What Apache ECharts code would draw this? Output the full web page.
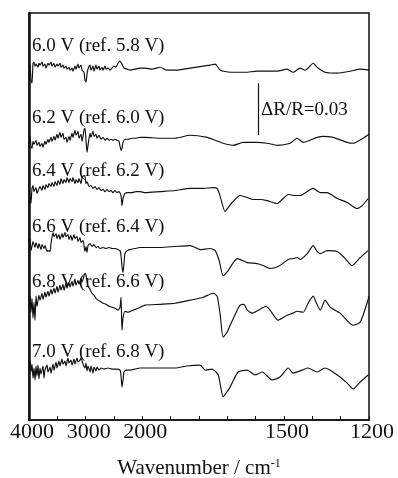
<!DOCTYPE html>
<html>
<head>
<meta charset="utf-8">
<script src="https://cdn.jsdelivr.net/npm/echarts@6/dist/echarts.min.js"></script>
<style>
  html, body { margin: 0; background: #fff; }
  #chart { width: 398px; height: 478px; }
</style>
</head>
<body>
<div id="chart"></div>
<script>
// potential steps and their reference potentials
const traceLabels = [
  '6.0 V (ref. 5.8 V)',
  '6.2 V (ref. 6.0 V)',
  '6.4 V (ref. 6.2 V)',
  '6.6 V (ref. 6.4 V)',
  '6.8 V (ref. 6.6 V)',
  '7.0 V (ref. 6.8 V)',
]
// vertical offsets of each spectrum, in 1e-3 ΔR/R
const offsets = [202, 161.5, 132.5, 99, 68, 30]

// [wavenumber cm-1, ΔR/R x 1e-3]
const spec60 = [[4000,2.3],[3982,3.5],[3965,-5.8],[3947,-7.5],[3929,4.0],[3912,4.6],[3894,2.3],[3876,3.5],[3841,1.7],[3824,4.0],[3806,2.9],[3771,4.6],[3753,2.3],[3718,3.5],[3700,1.2],[3665,4.0],[3647,2.9],[3612,4.6],[3594,2.3],[3559,4.0],[3541,1.7],[3506,3.5],[3488,2.3],[3453,4.0],[3435,1.7],[3400,2.9],[3382,1.2],[3347,2.3],[3329,0.6],[3294,1.7],[3276,0],[3241,1.2],[3224,-0.6],[3188,2.3],[3171,0.6],[3135,3.5],[3118,1.2],[3082,2.9],[3065,0],[3029,-1.2],[3012,-5.8],[2994,-6.9],[2976,-2.3],[2959,0.6],[2923,2.9],[2906,0],[2870,2.3],[2853,-0.6],[2818,2.9],[2800,0.6],[2765,2.3],[2747,0],[2712,1.7],[2694,0],[2659,2.3],[2641,0.6],[2606,1.2],[2570,0],[2535,1.2],[2500,2.3],[2465,1.7],[2429,4.0],[2394,5.2],[2359,3.5],[2323,1.2],[2270,0.6],[2218,0],[2129,0.6],[2041,1.2],
  [1990,1.2],[1965,0.6],[1937,1.7],[1913,0],[1884,0],[1831,1.2],[1785,2.3],[1761,2.9],[1743,3.5],[1725,0],[1690,-1.2],[1637,-1.2],[1595,-0.6],[1549,-0.6],[1524,-0.6],[1489,0.6],[1468,-1.2],[1443,1.2],[1425,0],[1397,4.0],[1380,1.2],[1355,-1.2],[1312,-1.7],[1267,-0.6],[1231,0.6],[1200,0]]

const spec62 = [[4000,1.2],[3982,2.3],[3965,-3.5],[3947,-4.6],[3929,-0.6],[3912,-2.3],[3876,0],[3859,-2.9],[3824,-1.2],[3806,-3.5],[3771,-1.7],[3753,-4.0],[3718,-0.6],[3700,-2.3],[3665,0.6],[3647,-1.2],[3612,1.7],[3594,-0.6],[3559,2.3],[3541,0],[3506,3.5],[3488,1.2],[3453,4.6],[3435,1.7],[3400,4.0],[3382,0.6],[3347,1.7],[3329,-1.2],[3294,2.3],[3276,0],[3241,4.0],[3224,1.7],[3188,5.8],[3171,2.9],[3135,5.2],[3118,1.2],[3082,3.5],[3065,-0.6],[3029,5.8],[3012,6.9],[2994,0],[2976,-6.9],[2959,-2.9],[2923,4.0],[2906,1.7],[2870,5.2],[2853,2.3],[2818,3.5],[2800,1.2],[2765,2.9],[2729,0.6],[2694,1.7],[2659,0],[2623,1.2],[2588,0],[2553,0.6],[2518,0],[2482,0.6],[2447,0],[2412,-0.6],[2376,-5.8],[2359,-4.6],[2341,-1.2],[2306,0.6],[2253,0.6],[2182,1.2],[2112,1.2],[2041,1.7],
  [1990,1.7],[1937,1.2],[1884,1.2],[1831,2.9],[1771,1.7],[1743,0],[1715,-1.7],[1679,-2.9],[1644,-1.2],[1595,-1.2],[1560,-1.7],[1524,-2.9],[1478,-1.7],[1454,1.2],[1432,-1.2],[1408,0],[1383,1.7],[1362,2.3],[1327,1.7],[1277,-1.2],[1256,-1.7],[1221,1.2],[1200,3.5]]

const spec64 = [[4000,0],[3982,-3.5],[3965,-7.5],[3947,1.2],[3929,2.9],[3912,-0.6],[3876,1.7],[3859,-1.7],[3824,1.2],[3806,2.3],[3771,0],[3753,2.9],[3718,0.6],[3700,3.5],[3665,1.7],[3647,4.0],[3612,2.3],[3594,4.6],[3559,2.3],[3541,5.2],[3506,2.9],[3488,5.8],[3453,3.5],[3435,6.9],[3400,4.0],[3382,6.3],[3347,4.6],[3329,7.5],[3294,4.6],[3276,6.9],[3241,5.2],[3224,7.5],[3188,4.0],[3171,6.3],[3135,4.6],[3118,6.9],[3082,4.0],[3065,7.5],[3029,8.7],[3012,8.1],[2994,4.0],[2976,5.2],[2941,2.3],[2906,2.9],[2870,1.2],[2835,2.3],[2800,0.6],[2765,1.7],[2729,0],[2694,0.6],[2659,-0.6],[2623,0.6],[2588,-0.6],[2553,0],[2518,-1.2],[2482,0],[2447,-1.2],[2412,-0.6],[2376,-2.9],[2359,-8.7],[2341,-4.6],[2306,-1.7],[2253,-1.2],[2182,-1.2],[2112,-0.6],[2041,-0.6],
  [1990,-1.2],[1937,-0.6],[1884,0],[1831,1.2],[1785,1.2],[1750,1.7],[1736,1.2],[1725,-3.5],[1708,-12.1],[1697,-9.8],[1683,-6.9],[1655,-2.9],[1630,-4.0],[1609,-5.2],[1584,-5.2],[1560,-5.8],[1524,-7.5],[1503,-4.6],[1485,-2.3],[1461,-2.9],[1443,-2.9],[1418,-0.6],[1397,1.2],[1380,-0.6],[1372,-1.2],[1348,-1.2],[1312,-4.6],[1277,-6.9],[1242,-10.4],[1224,-8.7],[1203,-4.6]]

const spec66 = [[4000,2.9],[3982,5.8],[3965,-1.2],[3947,1.2],[3929,4.0],[3894,0.6],[3876,3.5],[3841,0],[3824,2.9],[3788,-0.6],[3771,2.3],[3735,0],[3718,1.7],[3682,-1.7],[3665,-1.2],[3629,-1.7],[3612,2.9],[3576,9.2],[3559,6.9],[3523,8.7],[3506,5.8],[3471,8.1],[3453,5.2],[3418,8.7],[3400,6.3],[3365,9.2],[3347,6.9],[3312,8.1],[3294,5.2],[3259,7.5],[3241,4.6],[3206,8.1],[3188,5.8],[3153,6.9],[3135,4.0],[3100,6.3],[3082,3.5],[3047,4.6],[3029,1.7],[3012,-1.7],[2994,1.2],[2976,-2.3],[2959,1.7],[2923,2.9],[2888,1.2],[2853,2.3],[2818,0.6],[2782,1.2],[2747,0],[2694,0.6],[2641,0],[2588,0.6],[2535,0],[2482,0],[2429,-0.6],[2394,-1.2],[2376,-4.0],[2359,-10.4],[2341,-13.8],[2323,-8.1],[2306,-2.9],[2270,-1.2],[2218,-0.6],[2129,0],[2041,0.6],
  [1990,0.6],[1937,0.6],[1884,1.2],[1831,1.7],[1796,-0.6],[1761,0],[1743,-1.2],[1729,-6.9],[1715,-15.6],[1697,-12.7],[1679,-8.1],[1665,-5.8],[1630,-8.1],[1595,-8.7],[1574,-9.8],[1549,-11.5],[1521,-10.4],[1485,-6.3],[1468,-5.8],[1454,-5.2],[1443,-6.3],[1418,-2.9],[1397,1.7],[1383,-1.7],[1372,-2.9],[1348,-1.2],[1312,-1.7],[1284,-5.8],[1260,-9.8],[1231,-5.2],[1203,-1.2]]

const spec68 = [[4000,1.2],[3982,3.5],[3965,-5.8],[3947,2.3],[3929,-9.2],[3912,0],[3894,-10.4],[3876,3.5],[3859,-2.3],[3824,4.0],[3806,1.2],[3771,5.2],[3753,1.7],[3718,5.8],[3700,2.9],[3665,6.3],[3647,3.5],[3612,7.5],[3594,4.6],[3559,8.1],[3541,5.2],[3506,9.2],[3488,5.8],[3453,9.8],[3435,6.9],[3400,10.4],[3382,6.9],[3347,11.0],[3329,8.1],[3294,11.5],[3276,8.7],[3241,12.1],[3224,9.2],[3188,13.3],[3171,9.8],[3135,12.7],[3118,10.4],[3082,13.8],[3065,11.5],[3029,15.0],[3012,16.7],[2994,15.6],[2976,12.1],[2959,9.2],[2923,7.5],[2888,5.2],[2853,4.0],[2818,2.3],[2782,1.2],[2747,0.6],[2694,-0.6],[2641,-1.2],[2588,-2.3],[2535,-2.9],[2482,-3.5],[2429,-4.6],[2394,-2.9],[2376,2.9],[2359,-16.2],[2341,-9.2],[2306,-5.2],[2253,-5.8],[2165,-4.6],[2076,-3.5],
  [1990,-1.7],[1937,-1.2],[1884,-0.6],[1831,1.2],[1785,2.9],[1750,5.2],[1736,3.5],[1725,-7.5],[1715,-20.2],[1701,-17.3],[1690,-13.3],[1672,-6.9],[1655,-1.7],[1641,-1.2],[1630,-4.6],[1612,-6.3],[1584,-4.0],[1563,-2.3],[1549,-4.6],[1521,-10.4],[1489,-7.5],[1468,-6.3],[1454,-5.2],[1432,-5.8],[1415,-0.6],[1397,3.5],[1387,0],[1372,-4.6],[1355,1.2],[1337,-2.9],[1302,-6.3],[1256,-13.3],[1231,-11.5],[1207,-0.6],[1200,3.5]]

const spec70 = [[4000,1.2],[3982,4.6],[3965,-2.3],[3947,2.3],[3929,-5.8],[3912,0],[3894,-6.9],[3876,1.2],[3859,-4.6],[3841,1.7],[3824,-6.3],[3806,0],[3788,-3.5],[3753,1.2],[3735,-5.8],[3718,-1.2],[3682,1.7],[3665,-2.3],[3629,0.6],[3612,-2.9],[3576,2.3],[3559,-1.2],[3523,3.5],[3506,0],[3471,4.0],[3453,1.2],[3418,5.2],[3400,2.3],[3365,4.0],[3347,1.2],[3312,5.8],[3294,2.9],[3259,4.6],[3241,1.7],[3206,5.2],[3188,2.3],[3153,5.8],[3135,3.5],[3100,4.6],[3082,5.8],[3047,2.3],[3012,0],[2994,2.9],[2976,-1.7],[2959,1.2],[2923,-2.3],[2906,1.2],[2870,-2.9],[2853,0.6],[2818,-1.7],[2800,0.6],[2765,-1.2],[2729,0],[2676,-0.6],[2606,0],[2535,-0.6],[2465,-0.6],[2394,-1.2],[2376,-4.6],[2359,-11.0],[2341,-6.9],[2323,-2.3],[2288,-1.2],[2218,-1.2],[2129,-0.6],[2041,0],
  [1990,0],[1937,0],[1884,0],[1842,1.2],[1796,1.7],[1778,-1.2],[1754,-0.6],[1732,-4.0],[1715,-16.7],[1704,-14.4],[1690,-11.0],[1662,-2.3],[1630,-1.2],[1602,-4.0],[1577,-2.3],[1542,-6.9],[1514,-5.2],[1485,0],[1468,-2.9],[1436,-1.2],[1415,0],[1383,-2.3],[1355,0],[1312,-4.0],[1277,-8.7],[1256,-12.1],[1231,-8.1],[1203,-4.0]]

const spectra = [spec60, spec62, spec64, spec66, spec68, spec70]
const tickLabels = [4000, 3000, 2000, 1500, 1200]

// scale bar: ΔR/R = 0.03
const scaleBarWavenumber = 1590
const scaleBarBase = 164.5
const scaleBarLength = 30

// broken axis: 4000-2000 compressed 5x, 2000-1200 linear
function toAxis(w) {
  return w >= 2000 ? (4000 - w) / 5 : 400 + (2000 - w)
}
function fromAxis(u) {
  return u <= 400 ? 4000 - 5 * u : 2400 - u
}

const serif = '"Liberation Serif", "Times New Roman", serif'
const ink = '#111'
const labelY = [46, 118, 171, 227, 282, 352]

const chart = echarts.init(document.getElementById('chart'))

const series = spectra.map((spec, i) => ({
  name: traceLabels[i],
  type: 'line',
  data: spec.map(([w, d]) => [toAxis(w), offsets[i] + d]),
  showSymbol: false,
  smooth: 0.2,
  lineStyle: { color: ink, width: 1.15 },
  silent: true,
}))

series.push({
  type: 'line',
  data: [
    [toAxis(scaleBarWavenumber), scaleBarBase],
    [toAxis(scaleBarWavenumber), scaleBarBase + scaleBarLength],
  ],
  showSymbol: false,
  lineStyle: { color: ink, width: 1.2 },
  silent: true,
})

chart.setOption({
  animation: false,
  grid: {
    left: 29,
    right: 29,
    top: 13,
    bottom: 58,
    outerBoundsMode: 'none',
    show: true,
    borderColor: ink,
    borderWidth: 1.5,
  },
  xAxis: {
    type: 'value',
    min: 0,
    max: 1200,
    interval: 100,
    axisLine: { show: true, lineStyle: { color: ink, width: 1.5 } },
    axisTick: { show: true, inside: true, length: 4, lineStyle: { color: ink } },
    splitLine: { show: false },
    axisLabel: {
      margin: 1,
      color: ink,
      fontFamily: serif,
      fontSize: 22,
      padding: [0, 0, 0, 6],
      formatter: (u) => {
        const w = fromAxis(u)
        return tickLabels.includes(w) ? String(w) : ''
      },
    },
    name: 'Wavenumber / cm{sup|-1}',
    nameLocation: 'middle',
    nameGap: 38,
    nameMoveOverlap: false,
    nameTextStyle: {
      color: ink,
      fontFamily: serif,
      fontSize: 21,
      rich: {
        sup: { fontFamily: serif, fontSize: 12, color: ink, verticalAlign: 'top' },
      },
    },
  },
  yAxis: {
    type: 'value',
    min: 0,
    max: 235,
    axisLine: { show: true, lineStyle: { color: ink, width: 2.5 } },
    axisTick: { show: false },
    axisLabel: { show: false },
    splitLine: { show: false },
  },
  graphic: traceLabels.map((t, i) => ({
    type: 'text',
    x: 32,
    y: labelY[i],
    silent: true,
    style: { text: t, font: '19px ' + serif, fill: ink, verticalAlign: 'middle' },
  })).concat([{
    type: 'text',
    x: 261,
    y: 110,
    silent: true,
    style: { text: 'ΔR/R=0.03', font: '19px ' + serif, fill: ink, verticalAlign: 'middle' },
  }]),
  series: series,
})
</script>
</body>
</html>
